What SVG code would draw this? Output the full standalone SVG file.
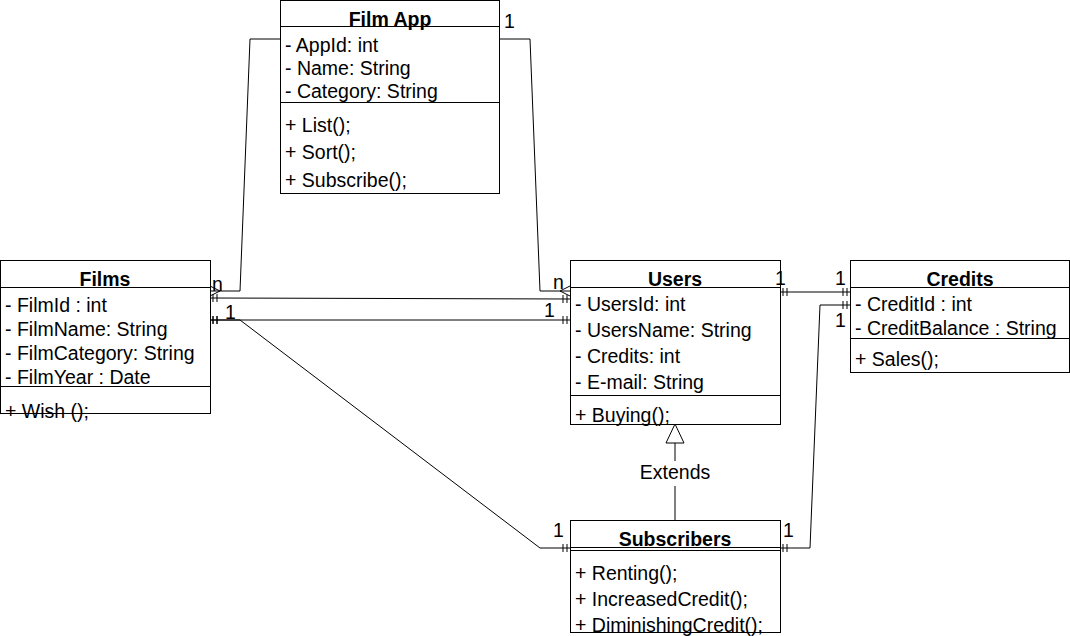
<svg xmlns="http://www.w3.org/2000/svg" width="1070" height="636" viewBox="0 0 1070 636">
<style>
.box{fill:#fff;stroke:#000;stroke-width:1}
.sep{stroke:#000;stroke-width:1}
.t{font-family:"Liberation Sans",Arial,sans-serif;font-size:19.5px;fill:#000}
.b{font-weight:bold;text-anchor:middle}
.c{fill:none;stroke:#000;stroke-width:1}
</style>
<defs>
<marker id="one" markerUnits="userSpaceOnUse" viewBox="-12 -6 14 12" refX="0" refY="0" markerWidth="14" markerHeight="12" orient="auto-start-reverse">
<path d="M-3,-4V4M-7,-4V4" fill="none" stroke="#000" stroke-width="1"/>
</marker>
<marker id="many" markerUnits="userSpaceOnUse" viewBox="-12 -6 14 12" refX="0" refY="0" markerWidth="14" markerHeight="12" orient="auto-start-reverse">
<path d="M0,-5L-10,0L0,5" fill="none" stroke="#000" stroke-width="1"/>
</marker>
</defs>
<rect width="1070" height="636" fill="#fff"/>
<g id="filmapp">
<rect class="box" x="280.5" y="0.5" width="219" height="193"/>
<line class="sep" x1="280" y1="26.5" x2="500" y2="26.5"/>
<line class="sep" x1="280" y1="102.5" x2="500" y2="102.5"/>
<text class="t b" x="390" y="26">Film App</text>
<text class="t" x="285" y="52">- AppId: int</text>
<text class="t" x="285" y="75">- Name: String</text>
<text class="t" x="285" y="98">- Category: String</text>
<text class="t" x="285" y="132">+ List();</text>
<text class="t" x="285" y="159">+ Sort();</text>
<text class="t" x="285" y="187">+ Subscribe();</text>
</g>
<g id="films">
<rect class="box" x="0.5" y="260.5" width="210" height="153"/>
<line class="sep" x1="0" y1="287.5" x2="211" y2="287.5"/>
<line class="sep" x1="0" y1="386.5" x2="211" y2="386.5"/>
<text class="t b" x="105" y="286">Films</text>
<text class="t" x="5" y="312">- FilmId : int</text>
<text class="t" x="5" y="336">- FilmName: String</text>
<text class="t" x="5" y="360">- FilmCategory: String</text>
<text class="t" x="5" y="384">- FilmYear : Date</text>
<text class="t" x="5" y="418">+ Wish ();</text>
</g>
<g id="users">
<rect class="box" x="570.5" y="260.5" width="210" height="164"/>
<line class="sep" x1="570" y1="287.5" x2="781" y2="287.5"/>
<line class="sep" x1="570" y1="395.5" x2="781" y2="395.5"/>
<text class="t b" x="675" y="286">Users</text>
<text class="t" x="575" y="311">- UsersId: int</text>
<text class="t" x="575" y="337">- UsersName: String</text>
<text class="t" x="575" y="363">- Credits: int</text>
<text class="t" x="575" y="389">- E-mail: String</text>
<text class="t" x="575" y="422">+ Buying();</text>
</g>
<g id="credits">
<rect class="box" x="850.5" y="260.5" width="219" height="112"/>
<line class="sep" x1="850" y1="287.5" x2="1070" y2="287.5"/>
<line class="sep" x1="850" y1="338.5" x2="1070" y2="338.5"/>
<text class="t b" x="960" y="286">Credits</text>
<text class="t" x="855" y="311">- CreditId : int</text>
<text class="t" x="855" y="335">- CreditBalance : String</text>
<text class="t" x="855" y="366">+ Sales();</text>
</g>
<g id="subscribers">
<rect class="box" x="570.5" y="520.5" width="210" height="112"/>
<line class="sep" x1="570" y1="547.5" x2="781" y2="547.5"/>
<line class="sep" x1="570" y1="550.5" x2="781" y2="550.5"/>
<text class="t b" x="675" y="546">Subscribers</text>
<text class="t" x="575" y="580">+ Renting();</text>
<text class="t" x="575" y="606">+ IncreasedCredit();</text>
<text class="t" x="575" y="632">+ DiminishingCredit();</text>
</g>
<g id="connectors">
<path class="c" d="M280,39H250L240,291H210" marker-end="url(#many)"/>
<path class="c" d="M500,39H530L540,291H570" marker-end="url(#many)"/>
<path class="c" d="M210,298L570,299" marker-start="url(#one)" marker-end="url(#one)"/>
<path class="c" d="M210,320H570" marker-start="url(#one)" marker-end="url(#one)"/>
<path class="c" d="M210,320H240L540,548H570" marker-start="url(#one)" marker-end="url(#one)"/>
<path class="c" d="M780,292H850" marker-start="url(#one)" marker-end="url(#one)"/>
<path class="c" d="M780,548H810L820,305H850" marker-start="url(#one)" marker-end="url(#one)"/>
<path class="c" d="M675,520V486M675,461V443"/>
<polygon points="675,424 666,443 684,443" fill="#fff" stroke="#000" stroke-width="1"/>
<text class="t" x="675" y="479" text-anchor="middle">Extends</text>
<text class="t" x="504" y="28">1</text>
<text class="t" x="212" y="291">n</text>
<text class="t" x="225" y="319">1</text>
<text class="t" x="553" y="289">n</text>
<text class="t" x="544" y="317">1</text>
<text class="t" x="775" y="285">1</text>
<text class="t" x="835" y="285">1</text>
<text class="t" x="835" y="327">1</text>
<text class="t" x="553" y="537">1</text>
<text class="t" x="783" y="537">1</text>
</g>
</svg>
